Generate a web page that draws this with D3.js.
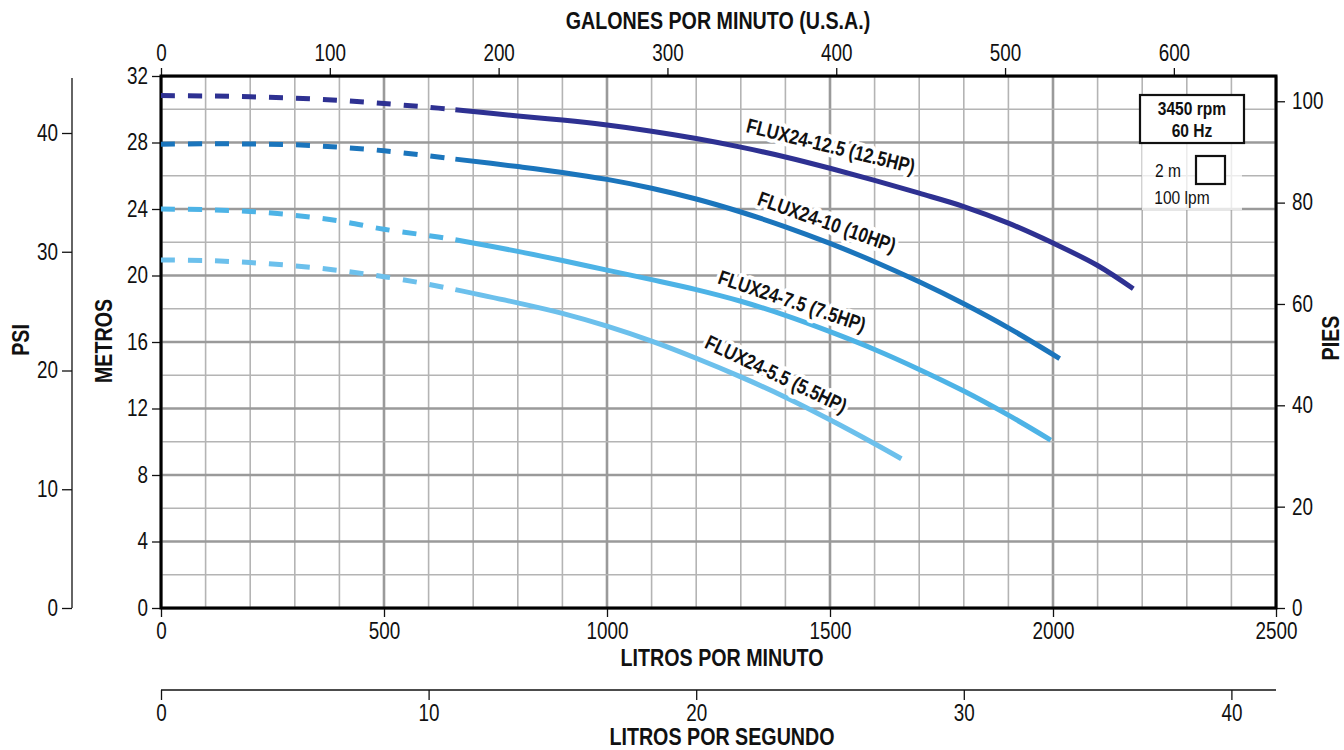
<!DOCTYPE html>
<html><head><meta charset="utf-8">
<script src="https://cdn.jsdelivr.net/npm/d3@7"></script>
<style>
body{margin:0;background:#fff;}
svg{display:block;}
text{font-family:"Liberation Sans",Arial,sans-serif;fill:#111;}
</style></head><body>
<svg id="chart" width="1344" height="750"></svg>
<script>
// ---------- DATA ----------
const seriesNames = ["FLUX24-12.5 (12.5HP)", "FLUX24-10 (10HP)", "FLUX24-7.5 (7.5HP)", "FLUX24-5.5 (5.5HP)"];

const flow12 = [0,100,200,300,400,500,600,660,800,900,1000,1100,1200,1300,1400,1500,1600,1700,1800,1900,2000,2100,2180];
const head12 = [30.82,30.80,30.75,30.67,30.53,30.34,30.12,29.97,29.6,29.35,29.05,28.68,28.24,27.72,27.13,26.45,25.72,24.95,24.15,23.15,21.95,20.6,19.2];

const flow10 = [0,100,200,300,400,500,600,660,800,900,1000,1100,1200,1300,1400,1500,1600,1700,1800,1900,2015];
const head10 = [27.9,27.92,27.91,27.86,27.72,27.5,27.2,27.0,26.55,26.2,25.78,25.25,24.6,23.82,22.93,21.93,20.83,19.62,18.3,16.85,15.0];

const flow75 = [0,100,200,300,400,500,600,660,800,900,1000,1100,1200,1300,1400,1500,1600,1700,1800,1900,1995];
const head75 = [24.0,23.96,23.85,23.62,23.28,22.78,22.4,22.15,21.45,20.9,20.32,19.75,19.15,18.45,17.6,16.62,15.55,14.35,13.05,11.6,10.1];

const flow55 = [0,100,200,300,400,500,600,660,800,900,1000,1100,1200,1300,1400,1500,1600,1660];
const head55 = [20.93,20.9,20.78,20.58,20.3,19.93,19.47,19.15,18.35,17.72,16.95,16.05,15.02,13.9,12.68,11.32,9.88,8.98];

const dashedUpToLpm = 660;

// label anchors (data units: lpm, metres)
const labelLpm  = [1502, 1493, 1415, 1379];
const labelHead = [27.79, 23.22, 18.47, 14.08];

const metreTicks = [0,4,8,12,16,20,24,28,32];
const psiTicks = [0,10,20,30,40];
const feetTicks = [0,20,40,60,80,100];
const lpmTicks = [0,500,1000,1500,2000,2500];
const gpmTicks = [0,100,200,300,400,500,600];
const lpsTicks = [0,10,20,30,40];

// ---------- STYLE ----------
const colors = ["#2e3192", "#1b75bc", "#4db3e6", "#6cc0ec"];
const labelAngles = [14, 19.5, 18.5, 25.5];
const FONT_TICK = 23, FONT_TITLE = 24, FONT_LABEL = 20.5, FONT_LEG = 19;
const NARROW = "scaleX(0.82)";

function narrow(sel, origin) {
  sel.style("transform-box", "fill-box").style("transform-origin", origin || "center")
     .style("transform", NARROW);
  return sel;
}

const svg = d3.select("#chart");
const L = 161, R = 1276, T = 76, B = 608;

const x = d3.scaleLinear([0, 2500], [L, R]);
const y = d3.scaleLinear([0, 32], [B, T]);
const xGpm = d3.scaleLinear([0, 2500 / 3.785], [L, R]);
const yFt = d3.scaleLinear([0, 32 / 0.3048], [B, T]);
const yPsi = d3.scaleLinear([0, 44.8], [B, T]);
const xLps = d3.scaleLinear([0, 2500 / 60], [L, R]);
const fmt = d3.format("d");

// grid
const grid = svg.append("g");
d3.range(0, 2501, 100).forEach(v => {
  const major = v % 500 === 0;
  grid.append("line").attr("x1", x(v)).attr("x2", x(v)).attr("y1", T).attr("y2", B)
    .attr("stroke", major ? "#9a9a9a" : "#b4b4b4").attr("stroke-width", major ? 2.6 : 1.6);
});
d3.range(0, 32.1, 2).forEach(v => {
  const major = v % 4 === 0;
  grid.append("line").attr("x1", L).attr("x2", R).attr("y1", y(v)).attr("y2", y(v))
    .attr("stroke", major ? "#9a9a9a" : "#b4b4b4").attr("stroke-width", major ? 2.6 : 1.6);
});

// legend white patch (below box)
svg.append("rect").attr("x", 1142).attr("y", 144).attr("width", 100).attr("height", 66)
  .attr("fill", "#fff").attr("opacity", 0.75);

// axes helper
function styleAxis(g, size, origin) {
  narrow(g.selectAll("text").style("font-size", size + "px").attr("fill", "#111"), origin);
  g.selectAll("line").attr("stroke", "#111").attr("stroke-width", 1.3);
  g.selectAll("path.domain").attr("stroke", "#111").attr("stroke-width", 1.3);
}

// metres (left)
const gM = svg.append("g").attr("transform", `translate(${L},0)`)
  .call(d3.axisLeft(y).tickValues(metreTicks).tickFormat(fmt).tickSize(9).tickPadding(4).tickSizeOuter(0));
styleAxis(gM, FONT_TICK, "right center");
// psi (far left)
const gP = svg.append("g").attr("transform", `translate(72,0)`)
  .call(d3.axisLeft(yPsi).tickValues(psiTicks).tickFormat(fmt).tickSize(10).tickPadding(4).tickSizeOuter(0));
styleAxis(gP, FONT_TICK, "right center");
gP.select("path.domain").attr("d", `M0,${T+2}V${B}`);
// feet (right)
const gF = svg.append("g").attr("transform", `translate(${R},0)`)
  .call(d3.axisRight(yFt).tickValues(feetTicks).tickFormat(fmt).tickSize(9).tickPadding(7).tickSizeOuter(0));
styleAxis(gF, FONT_TICK, "left center");
// gpm (top)
const gG = svg.append("g").attr("transform", `translate(0,${T})`)
  .call(d3.axisTop(xGpm).tickValues(gpmTicks).tickFormat(fmt).tickSize(8).tickPadding(7).tickSizeOuter(0));
styleAxis(gG, FONT_TICK, "center");
// lpm (bottom)
const gL = svg.append("g").attr("transform", `translate(0,${B})`)
  .call(d3.axisBottom(x).tickValues(lpmTicks).tickFormat(fmt).tickSize(9).tickPadding(6).tickSizeOuter(0));
styleAxis(gL, FONT_TICK, "center");
// lps (lower)
const gS = svg.append("g").attr("transform", `translate(0,690)`)
  .call(d3.axisBottom(xLps).tickValues(lpsTicks).tickFormat(fmt).tickSize(10).tickPadding(5).tickSizeOuter(0));
styleAxis(gS, FONT_TICK, "center");
gS.select("path.domain").attr("d", `M${L},0H${R}`);

// frame
svg.append("rect").attr("x", L).attr("y", T).attr("width", R - L).attr("height", B - T)
  .attr("fill", "none").attr("stroke", "#000").attr("stroke-width", 3);

// titles
function title(txt, tx, ty, rot) {
  const g = svg.append("g").attr("transform", `translate(${tx},${ty}) rotate(${rot || 0})`);
  narrow(g.append("text").attr("text-anchor", "middle").style("font-size", FONT_TITLE + "px")
    .style("font-weight", "bold").text(txt), "center");
}
title("GALONES POR MINUTO (U.S.A.)", 718, 29);
title("LITROS POR MINUTO", 722, 666);
title("LITROS POR SEGUNDO", 722, 745);
title("PSI", 29, 340, -90);
title("METROS", 112, 341, -90);
title("PIES", 1339, 338, -90);

// curves
const series = [
  {flow: flow12, head: head12},
  {flow: flow10, head: head10},
  {flow: flow75, head: head75},
  {flow: flow55, head: head55}
];
const line = d3.line().x(d => x(d[0])).y(d => y(d[1])).curve(d3.curveCatmullRom.alpha(0.5));
series.forEach((s, i) => {
  const pts = s.flow.map((f, k) => [f, s.head[k]]);
  const dashed = pts.filter(p => p[0] <= dashedUpToLpm);
  const solid = pts.filter(p => p[0] >= dashedUpToLpm);
  svg.append("path").attr("d", line(dashed)).attr("fill", "none").attr("stroke", colors[i])
    .attr("stroke-width", 5).attr("stroke-dasharray", "14,13");
  svg.append("path").attr("d", line(solid)).attr("fill", "none").attr("stroke", colors[i])
    .attr("stroke-width", 5);
});

// curve labels
seriesNames.forEach((name, i) => {
  const g = svg.append("g")
    .attr("transform", `translate(${x(labelLpm[i])},${y(labelHead[i])}) rotate(${labelAngles[i]})`);
  narrow(g.append("text")
    .attr("text-anchor", "middle").attr("dy", "0.35em")
    .style("font-size", FONT_LABEL + "px").style("font-weight", "bold")
    .attr("stroke", "#fff").attr("stroke-width", 8).attr("stroke-linejoin", "round")
    .attr("paint-order", "stroke").text(name), "center");
});

// legend box
svg.append("rect").attr("x", 1140).attr("y", 95).attr("width", 104).attr("height", 48)
  .attr("fill", "#fff").attr("stroke", "#111").attr("stroke-width", 2.2);
function legText(txt, tx, ty, bold) {
  narrow(svg.append("text").attr("x", tx).attr("y", ty).attr("text-anchor", "middle")
    .style("font-size", FONT_LEG + "px").style("font-weight", bold ? "bold" : "normal").text(txt), "center");
}
legText("3450 rpm", 1192, 115.5, true);
legText("60 Hz", 1192, 137.5, true);
svg.append("rect").attr("x", 1196).attr("y", 156).attr("width", 29).attr("height", 28)
  .attr("fill", "#fff").attr("stroke", "#111").attr("stroke-width", 2.2);
legText("2 m", 1168, 177, false);
legText("100 lpm", 1182, 204, false);
</script>
</body></html>
